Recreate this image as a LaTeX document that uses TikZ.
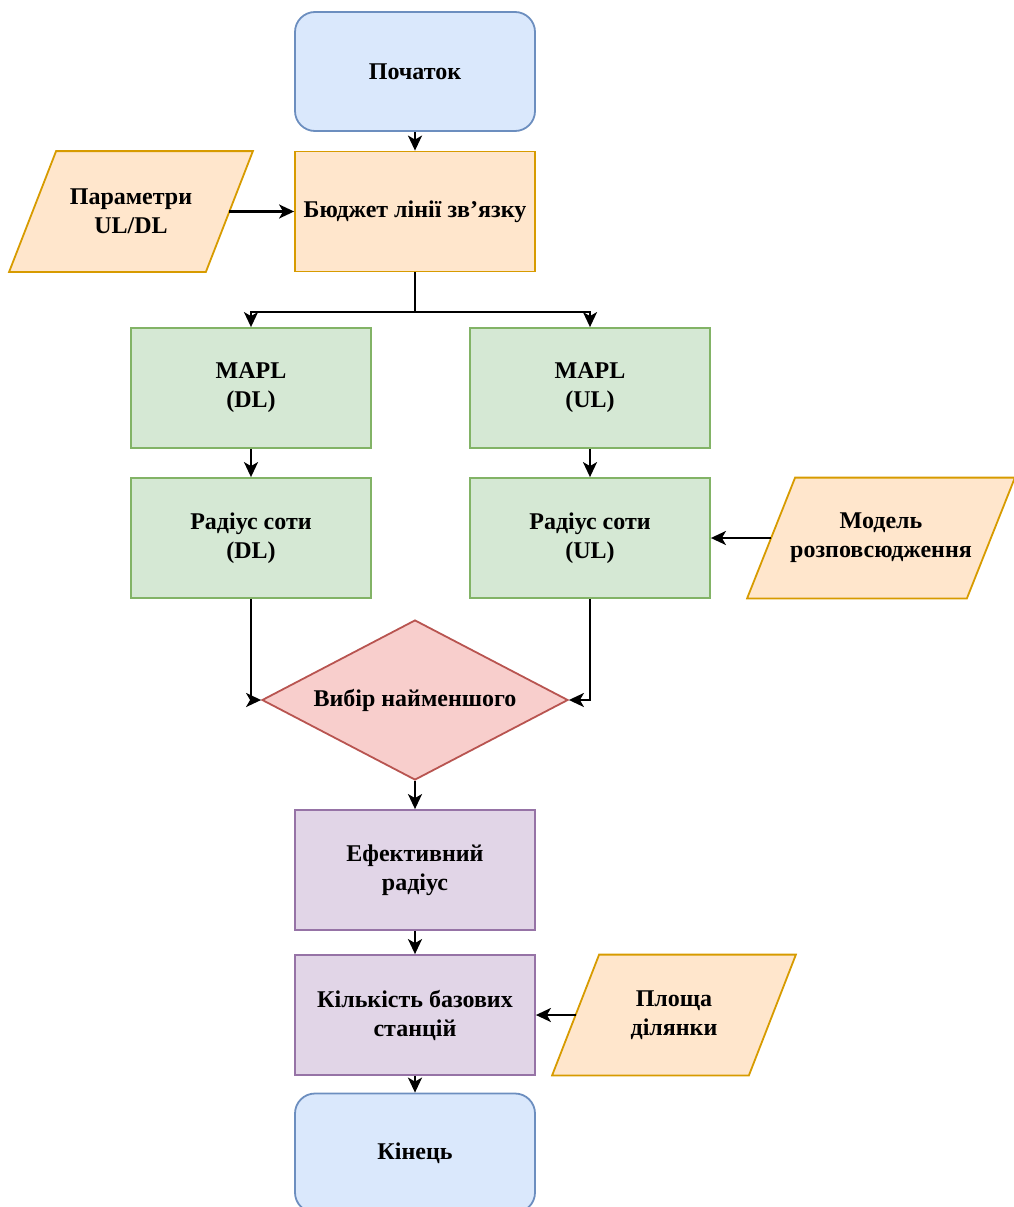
\documentclass[tikz,border=0pt]{standalone}
\usepackage{fontspec}
\setmainfont{Liberation Serif}
\usetikzlibrary{shapes.geometric,arrows.meta}
\pgfdeclarelayer{background}
\pgfsetlayers{background,main}
\definecolor{bluef}{HTML}{DAE8FC}\definecolor{blued}{HTML}{6C8EBF}
\definecolor{orf}{HTML}{FFE6CC}\definecolor{ord}{HTML}{D79B00}
\definecolor{grf}{HTML}{D5E8D4}\definecolor{grd}{HTML}{82B366}
\definecolor{rdf}{HTML}{F8CECC}\definecolor{rdd}{HTML}{B85450}
\definecolor{puf}{HTML}{E1D5E7}\definecolor{pud}{HTML}{9673A6}
\tikzset{
  base/.style={align=center, font=\fontsize{24}{29}\selectfont\bfseries, line width=1.8pt, inner sep=2pt},
  term/.style={base, rectangle, rounded corners=20pt, draw=blued, fill=bluef, minimum width=240pt, minimum height=119pt},
  proc/.style={base, rectangle, draw=#1d, fill=#1f, minimum width=240pt, minimum height=120pt},
  io/.style={base, rectangle, minimum height=119pt, minimum width=#1},
  iobox/.style={line width=1.8pt, draw=ord, fill=orf},
  dec/.style={base, diamond, draw=rdd, fill=rdf, minimum width=306pt, minimum height=160pt, aspect=1.91, inner sep=0pt},
  arr/.style={line width=2.2pt, -{Stealth[length=15pt,width=14pt,inset=4pt]}},
}
\newcommand{\iosh}[2]{\draw[iobox] ([xshift=-#2]#1.south west) -- ([xshift=-#2]#1.south east) -- ([xshift=#2]#1.north east) -- ([xshift=#2]#1.north west) -- cycle;}
\begin{document}
\begin{tikzpicture}[x=1pt,y=-1pt]
\useasboundingbox (0,0) rectangle (1014,1207);
\clip (0,0) rectangle (1014,1207);
\node[term] (start) at (415,71.5) {Початок};
\node[proc=or] (budget) at (415,211.5) {Бюджет лінії зв’язку};
\node[io=195pt] (param) at (131,211.5) {Параметри\\UL/DL};
\node[proc=gr] (mdl) at (251,388) {MAPL\\(DL)};
\node[proc=gr] (mul) at (590,388) {MAPL\\(UL)};
\node[proc=gr] (rdl) at (251,538) {Радіус соти\\(DL)};
\node[proc=gr] (rul) at (590,538) {Радіус соти\\(UL)};
\node[io=218pt] (model) at (881,538) {Модель\\розповсюдження};
\node[dec] (dia) at (415,700) {Вибір найменшого};
\node[proc=pu] (eff) at (415,870) {Ефективний\\радіус};
\node[proc=pu] (cnt) at (415,1015) {Кількість базових\\станцій};
\node[io=195pt] (area) at (674,1015) {Площа\\ділянки};
\node[term] (end) at (415,1153) {Кінець};
\begin{pgfonlayer}{background}
\iosh{param}{23.5pt}
\iosh{model}{24pt}
\iosh{area}{23.5pt}
\end{pgfonlayer}
\coordinate (split) at (415,312);
\draw[arr] (start) -- (budget);
\draw[arr] (param.east) -- (budget.west);
\draw[line width=2.2pt] (budget.south) -- (split);
\draw[arr] (split) -| (mdl.north);
\draw[arr] (split) -| (mul.north);
\draw[arr] (mdl) -- (rdl);
\draw[arr] (mul) -- (rul);
\draw[arr] (model.west) -- (rul.east);
\draw[arr] (rdl.south) |- (dia.west);
\draw[arr] (rul.south) |- (dia.east);
\draw[arr] (dia.south) -- (eff.north);
\draw[arr] (eff) -- (cnt);
\draw[arr] (area.west) -- (cnt.east);
\draw[arr] (cnt) -- (end);
\end{tikzpicture}
\end{document}
